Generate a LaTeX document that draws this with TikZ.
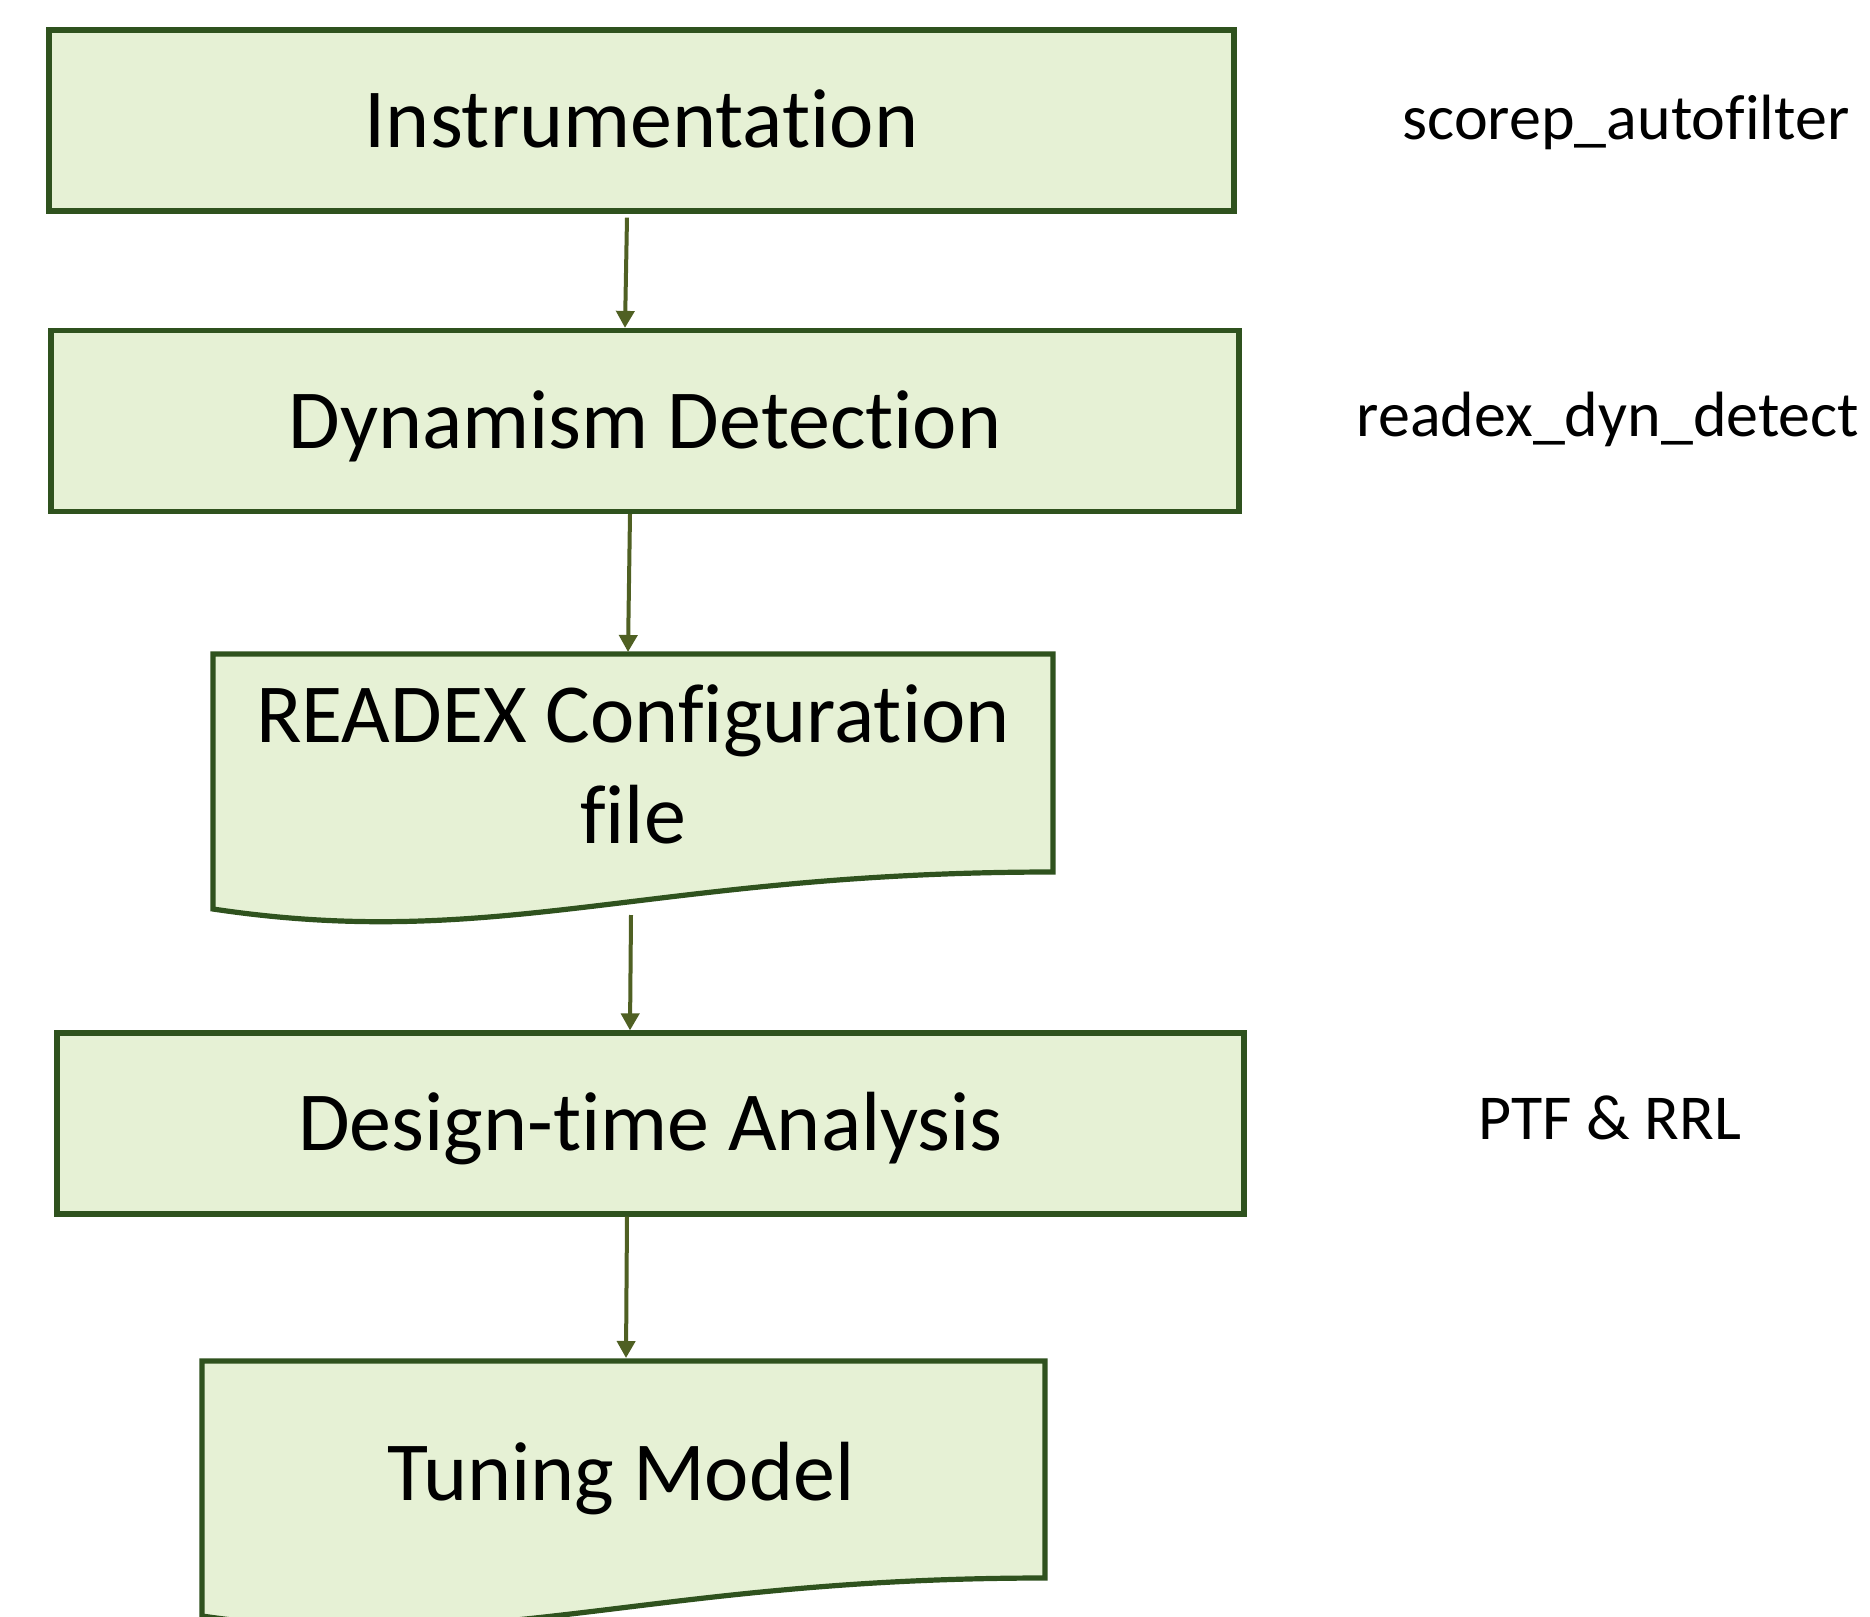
\documentclass[tikz,border=0pt]{standalone}
\usepackage{fontspec}
\setmainfont{Carlito}[Ligatures=NoCommon]
\usetikzlibrary{arrows.meta}
\definecolor{boxfill}{RGB}{230,241,213}
\definecolor{boxline}{RGB}{47,82,30}
\definecolor{arrline}{RGB}{79,96,35}
\begin{document}
\begin{tikzpicture}[x=0.5pt,y=-0.5pt,
  stepbox/.style={draw=boxline,line width=2.6pt,fill=boxfill,minimum width=592.5pt,minimum height=90.5pt,inner sep=0pt,font=\fontsize{42}{50.5}\selectfont,text height=27.3pt,text depth=0pt},
  docshape/.style={draw=boxline,line width=2.6pt,fill=boxfill},
  doctext/.style={font=\fontsize{42}{50.5}\selectfont,align=center,inner sep=0pt},
  side/.style={font=\fontsize{32}{38}\selectfont,anchor=base,inner sep=0pt},
  arr/.style={draw=arrline,line width=2pt,-{Triangle[length=8.5pt,width=9pt]}}]
\useasboundingbox (0,0) rectangle (1870,1617);
\clip (0,0) rectangle (1870,1617);
% boxes
\node[stepbox] (b1) at (641.5,120.5) {Instrumentation};
\node[stepbox,minimum width=594pt] (b2) at (645,421) {Dynamism Detection};
\path[docshape] (213,654) -- (1053,654) -- (1053,872) .. controls (650,872) and (500,952) .. (213,909) -- cycle;
\coordinate (d1top) at (628,652);
\coordinate (d1bot) at (631,915);
\node[doctext] (d1) at (633,764) {READEX Configuration\\file};
\node[stepbox,minimum width=593.5pt] (b4) at (650.5,1123.5) {Design-time Analysis};
\path[docshape] (202,1361) -- (1045,1361) -- (1045,1578) .. controls (642,1578) and (492,1658) .. (202,1616) -- (202,1700) -- cycle;
\coordinate (d2top) at (626,1358);
\node[side,font=\fontsize{42}{50.5}\selectfont] (d2) at (621,1500) {Tuning Model};
% side labels
\node[side] (s1) at (1626,139) {scorep\_autofilter};
\node[side] (s2) at (1608,436) {readex\_dyn\_detect};
\node[side] (s3) at (1610,1139) {PTF \& RRL};
% arrows
\draw[arr] ([xshift=-7.25pt,yshift=-2pt]b1.south) -- ([xshift=-10pt]b2.north);
\draw[arr] ([xshift=-7.5pt]b2.south) -- (d1top);
\draw[arr] (d1bot) -- ([xshift=-10.25pt]b4.north);
\draw[arr] ([xshift=-11.75pt]b4.south) -- (d2top);
\end{tikzpicture}
\end{document}
